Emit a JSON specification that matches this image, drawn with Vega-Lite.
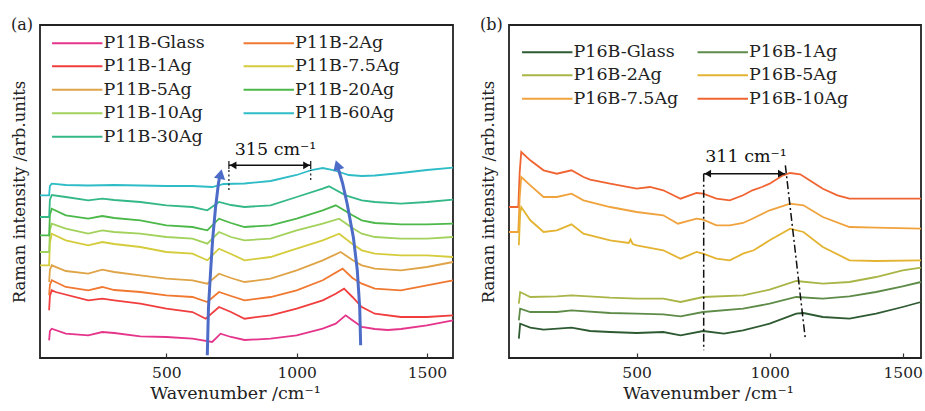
{
  "$schema": "https://vega.github.io/schema/vega-lite/v6.json",
  "background": "white",
  "padding": {"left": 10, "top": 16, "right": 0, "bottom": 0},
  "config": {
    "font": "DejaVu Serif",
    "view": {"stroke": "#222", "strokeWidth": 1.8},
    "concat": {"spacing": 21},
    "axis": {"labelFont": "DejaVu Serif", "titleFont": "DejaVu Serif", "labelFontSize": 15.5, "titleFontSize": 17.5, "titleFontWeight": "normal", "labelColor": "#222", "titleColor": "#222", "grid": false, "domain": false, "tickColor": "#333", "tickWidth": 1.2, "format": "d"},
    "axisX": {"tickSize": -5, "labelPadding": 12, "titlePadding": 4},
    "axisY": {"titlePadding": 13, "labels": false, "ticks": false, "titleFontSize": 16.5},
    "title": {"font": "DejaVu Serif", "fontSize": 16, "fontWeight": "normal", "color": "#222", "anchor": "start", "frame": "bounds", "offset": -8},
    "legend": {"orient": "none", "columns": 2, "title": null, "symbolType": "M-5.6,0H5.6", "symbolSize": 81, "symbolStrokeWidth": 2, "labelFont": "DejaVu Serif", "labelFontSize": 17.5, "labelColor": "#222", "labelOffset": 17.5, "rowPadding": 4.5, "padding": 0, "labelLimit": 300}
  },
  "resolve": {"scale": {"color": "independent", "x": "independent", "y": "independent"}, "legend": {"color": "independent"}},
  "datasets": {
    "a": [
      {"s":"P11B-Glass","x":50,"y":17.7},{"s":"P11B-Glass","x":53,"y":27},{"s":"P11B-Glass","x":60,"y":29.3},{"s":"P11B-Glass","x":114,"y":24.3},{"s":"P11B-Glass","x":200,"y":22.7},{"s":"P11B-Glass","x":254,"y":26},{"s":"P11B-Glass","x":300,"y":25},{"s":"P11B-Glass","x":400,"y":21.7},{"s":"P11B-Glass","x":500,"y":21},{"s":"P11B-Glass","x":600,"y":19.3},{"s":"P11B-Glass","x":676,"y":16},{"s":"P11B-Glass","x":708,"y":24.3},{"s":"P11B-Glass","x":748,"y":21},{"s":"P11B-Glass","x":800,"y":18},{"s":"P11B-Glass","x":900,"y":19.3},{"s":"P11B-Glass","x":1000,"y":22.7},{"s":"P11B-Glass","x":1100,"y":29.3},{"s":"P11B-Glass","x":1150,"y":34.3},{"s":"P11B-Glass","x":1188,"y":42.7},{"s":"P11B-Glass","x":1214,"y":37.7},{"s":"P11B-Glass","x":1250,"y":31},{"s":"P11B-Glass","x":1300,"y":29},{"s":"P11B-Glass","x":1350,"y":28},{"s":"P11B-Glass","x":1400,"y":29},{"s":"P11B-Glass","x":1500,"y":32.7},{"s":"P11B-Glass","x":1600,"y":37.7},
      {"s":"P11B-1Ag","x":50,"y":47.7},{"s":"P11B-1Ag","x":53,"y":62},{"s":"P11B-1Ag","x":60,"y":67.7},{"s":"P11B-1Ag","x":75,"y":66},{"s":"P11B-1Ag","x":200,"y":57.7},{"s":"P11B-1Ag","x":254,"y":59.3},{"s":"P11B-1Ag","x":300,"y":57.7},{"s":"P11B-1Ag","x":400,"y":54.3},{"s":"P11B-1Ag","x":500,"y":49.3},{"s":"P11B-1Ag","x":600,"y":46},{"s":"P11B-1Ag","x":651,"y":39.3},{"s":"P11B-1Ag","x":702,"y":51},{"s":"P11B-1Ag","x":748,"y":46},{"s":"P11B-1Ag","x":800,"y":39.3},{"s":"P11B-1Ag","x":900,"y":42.7},{"s":"P11B-1Ag","x":1000,"y":49.3},{"s":"P11B-1Ag","x":1100,"y":57.7},{"s":"P11B-1Ag","x":1150,"y":64.3},{"s":"P11B-1Ag","x":1182,"y":69.3},{"s":"P11B-1Ag","x":1214,"y":61},{"s":"P11B-1Ag","x":1250,"y":51},{"s":"P11B-1Ag","x":1300,"y":44.3},{"s":"P11B-1Ag","x":1400,"y":41},{"s":"P11B-1Ag","x":1500,"y":41},{"s":"P11B-1Ag","x":1600,"y":42.7},
      {"s":"P11B-2Ag","x":50,"y":62.7},{"s":"P11B-2Ag","x":53,"y":73},{"s":"P11B-2Ag","x":60,"y":77.7},{"s":"P11B-2Ag","x":114,"y":71},{"s":"P11B-2Ag","x":200,"y":67.7},{"s":"P11B-2Ag","x":254,"y":71},{"s":"P11B-2Ag","x":300,"y":68},{"s":"P11B-2Ag","x":400,"y":66},{"s":"P11B-2Ag","x":500,"y":62.7},{"s":"P11B-2Ag","x":600,"y":61},{"s":"P11B-2Ag","x":657,"y":56},{"s":"P11B-2Ag","x":702,"y":66},{"s":"P11B-2Ag","x":748,"y":62},{"s":"P11B-2Ag","x":800,"y":57.7},{"s":"P11B-2Ag","x":900,"y":61},{"s":"P11B-2Ag","x":1000,"y":67.7},{"s":"P11B-2Ag","x":1100,"y":77.7},{"s":"P11B-2Ag","x":1176,"y":89.3},{"s":"P11B-2Ag","x":1214,"y":80},{"s":"P11B-2Ag","x":1250,"y":74.3},{"s":"P11B-2Ag","x":1300,"y":69.3},{"s":"P11B-2Ag","x":1400,"y":67.7},{"s":"P11B-2Ag","x":1500,"y":72.7},{"s":"P11B-2Ag","x":1600,"y":77.7},
      {"s":"P11B-5Ag","x":50,"y":76},{"s":"P11B-5Ag","x":53,"y":88},{"s":"P11B-5Ag","x":60,"y":92.7},{"s":"P11B-5Ag","x":114,"y":87},{"s":"P11B-5Ag","x":200,"y":84.3},{"s":"P11B-5Ag","x":254,"y":88.3},{"s":"P11B-5Ag","x":300,"y":86},{"s":"P11B-5Ag","x":400,"y":82.7},{"s":"P11B-5Ag","x":500,"y":79.3},{"s":"P11B-5Ag","x":600,"y":77.7},{"s":"P11B-5Ag","x":657,"y":74.3},{"s":"P11B-5Ag","x":702,"y":84.3},{"s":"P11B-5Ag","x":748,"y":80},{"s":"P11B-5Ag","x":800,"y":76},{"s":"P11B-5Ag","x":900,"y":79.3},{"s":"P11B-5Ag","x":1000,"y":87.7},{"s":"P11B-5Ag","x":1100,"y":97.7},{"s":"P11B-5Ag","x":1169,"y":106},{"s":"P11B-5Ag","x":1214,"y":98},{"s":"P11B-5Ag","x":1250,"y":92.7},{"s":"P11B-5Ag","x":1300,"y":89.3},{"s":"P11B-5Ag","x":1400,"y":87.7},{"s":"P11B-5Ag","x":1500,"y":91},{"s":"P11B-5Ag","x":1600,"y":96},
      {"s":"P11B-7.5Ag","x":15,"y":92.7},{"s":"P11B-7.5Ag","x":50,"y":92.7},{"s":"P11B-7.5Ag","x":53,"y":115},{"s":"P11B-7.5Ag","x":60,"y":124.3},{"s":"P11B-7.5Ag","x":114,"y":117.7},{"s":"P11B-7.5Ag","x":200,"y":112.7},{"s":"P11B-7.5Ag","x":254,"y":116},{"s":"P11B-7.5Ag","x":300,"y":114},{"s":"P11B-7.5Ag","x":400,"y":111},{"s":"P11B-7.5Ag","x":500,"y":106},{"s":"P11B-7.5Ag","x":600,"y":104.3},{"s":"P11B-7.5Ag","x":657,"y":97.7},{"s":"P11B-7.5Ag","x":702,"y":109.3},{"s":"P11B-7.5Ag","x":748,"y":104},{"s":"P11B-7.5Ag","x":800,"y":97.7},{"s":"P11B-7.5Ag","x":900,"y":101},{"s":"P11B-7.5Ag","x":1000,"y":109.3},{"s":"P11B-7.5Ag","x":1100,"y":117.7},{"s":"P11B-7.5Ag","x":1163,"y":124.3},{"s":"P11B-7.5Ag","x":1214,"y":114},{"s":"P11B-7.5Ag","x":1250,"y":107.7},{"s":"P11B-7.5Ag","x":1300,"y":104.3},{"s":"P11B-7.5Ag","x":1400,"y":102.7},{"s":"P11B-7.5Ag","x":1500,"y":102.7},{"s":"P11B-7.5Ag","x":1600,"y":101},
      {"s":"P11B-10Ag","x":15,"y":106},{"s":"P11B-10Ag","x":50,"y":106},{"s":"P11B-10Ag","x":53,"y":128},{"s":"P11B-10Ag","x":60,"y":134.3},{"s":"P11B-10Ag","x":114,"y":129.3},{"s":"P11B-10Ag","x":200,"y":124.3},{"s":"P11B-10Ag","x":254,"y":127.7},{"s":"P11B-10Ag","x":300,"y":126},{"s":"P11B-10Ag","x":400,"y":124.3},{"s":"P11B-10Ag","x":500,"y":121},{"s":"P11B-10Ag","x":600,"y":119.3},{"s":"P11B-10Ag","x":657,"y":114.3},{"s":"P11B-10Ag","x":702,"y":126},{"s":"P11B-10Ag","x":748,"y":121},{"s":"P11B-10Ag","x":800,"y":117.7},{"s":"P11B-10Ag","x":900,"y":119.3},{"s":"P11B-10Ag","x":1000,"y":127.7},{"s":"P11B-10Ag","x":1100,"y":134.3},{"s":"P11B-10Ag","x":1163,"y":139.3},{"s":"P11B-10Ag","x":1214,"y":130},{"s":"P11B-10Ag","x":1250,"y":124.3},{"s":"P11B-10Ag","x":1300,"y":121},{"s":"P11B-10Ag","x":1400,"y":119.3},{"s":"P11B-10Ag","x":1500,"y":119.3},{"s":"P11B-10Ag","x":1600,"y":121},
      {"s":"P11B-20Ag","x":15,"y":122.7},{"s":"P11B-20Ag","x":50,"y":122.7},{"s":"P11B-20Ag","x":53,"y":143},{"s":"P11B-20Ag","x":60,"y":149.3},{"s":"P11B-20Ag","x":114,"y":142.7},{"s":"P11B-20Ag","x":200,"y":139.3},{"s":"P11B-20Ag","x":254,"y":142},{"s":"P11B-20Ag","x":300,"y":140},{"s":"P11B-20Ag","x":400,"y":137.7},{"s":"P11B-20Ag","x":500,"y":132.7},{"s":"P11B-20Ag","x":600,"y":131},{"s":"P11B-20Ag","x":657,"y":127.7},{"s":"P11B-20Ag","x":702,"y":139.3},{"s":"P11B-20Ag","x":748,"y":135},{"s":"P11B-20Ag","x":800,"y":131},{"s":"P11B-20Ag","x":900,"y":132.7},{"s":"P11B-20Ag","x":1000,"y":139.3},{"s":"P11B-20Ag","x":1100,"y":147.7},{"s":"P11B-20Ag","x":1150,"y":152.7},{"s":"P11B-20Ag","x":1214,"y":142.7},{"s":"P11B-20Ag","x":1250,"y":137.7},{"s":"P11B-20Ag","x":1300,"y":135},{"s":"P11B-20Ag","x":1400,"y":133.7},{"s":"P11B-20Ag","x":1500,"y":133.7},{"s":"P11B-20Ag","x":1600,"y":134.3},
      {"s":"P11B-30Ag","x":15,"y":141},{"s":"P11B-30Ag","x":50,"y":141},{"s":"P11B-30Ag","x":53,"y":158},{"s":"P11B-30Ag","x":60,"y":163},{"s":"P11B-30Ag","x":114,"y":161},{"s":"P11B-30Ag","x":200,"y":157.7},{"s":"P11B-30Ag","x":254,"y":159.3},{"s":"P11B-30Ag","x":300,"y":158},{"s":"P11B-30Ag","x":400,"y":156},{"s":"P11B-30Ag","x":500,"y":152.7},{"s":"P11B-30Ag","x":600,"y":151},{"s":"P11B-30Ag","x":657,"y":147.7},{"s":"P11B-30Ag","x":702,"y":156},{"s":"P11B-30Ag","x":748,"y":153},{"s":"P11B-30Ag","x":800,"y":151},{"s":"P11B-30Ag","x":900,"y":152.7},{"s":"P11B-30Ag","x":1000,"y":161},{"s":"P11B-30Ag","x":1100,"y":169.3},{"s":"P11B-30Ag","x":1124,"y":171.7},{"s":"P11B-30Ag","x":1188,"y":162.7},{"s":"P11B-30Ag","x":1250,"y":157.7},{"s":"P11B-30Ag","x":1300,"y":156},{"s":"P11B-30Ag","x":1400,"y":154.3},{"s":"P11B-30Ag","x":1500,"y":156},{"s":"P11B-30Ag","x":1600,"y":158.3},
      {"s":"P11B-60Ag","x":15,"y":162.7},{"s":"P11B-60Ag","x":50,"y":162.7},{"s":"P11B-60Ag","x":53,"y":172},{"s":"P11B-60Ag","x":60,"y":174.3},{"s":"P11B-60Ag","x":114,"y":173},{"s":"P11B-60Ag","x":200,"y":172.5},{"s":"P11B-60Ag","x":300,"y":173},{"s":"P11B-60Ag","x":400,"y":172.5},{"s":"P11B-60Ag","x":500,"y":172},{"s":"P11B-60Ag","x":600,"y":172},{"s":"P11B-60Ag","x":676,"y":171},{"s":"P11B-60Ag","x":720,"y":174},{"s":"P11B-60Ag","x":800,"y":174.5},{"s":"P11B-60Ag","x":900,"y":177},{"s":"P11B-60Ag","x":1000,"y":183},{"s":"P11B-60Ag","x":1057,"y":188},{"s":"P11B-60Ag","x":1100,"y":190},{"s":"P11B-60Ag","x":1140,"y":188},{"s":"P11B-60Ag","x":1200,"y":183},{"s":"P11B-60Ag","x":1250,"y":182},{"s":"P11B-60Ag","x":1300,"y":182.5},{"s":"P11B-60Ag","x":1400,"y":185},{"s":"P11B-60Ag","x":1500,"y":188},{"s":"P11B-60Ag","x":1600,"y":190.3}
    ],
    "b": [
      {"s":"P16B-10Ag","x":20,"y":151},{"s":"P16B-10Ag","x":55,"y":151},{"s":"P16B-10Ag","x":60,"y":185},{"s":"P16B-10Ag","x":66,"y":206},{"s":"P16B-10Ag","x":100,"y":197.7},{"s":"P16B-10Ag","x":150,"y":187.7},{"s":"P16B-10Ag","x":200,"y":184.3},{"s":"P16B-10Ag","x":255,"y":187.7},{"s":"P16B-10Ag","x":300,"y":181},{"s":"P16B-10Ag","x":325,"y":178.3},{"s":"P16B-10Ag","x":400,"y":174.3},{"s":"P16B-10Ag","x":500,"y":169.3},{"s":"P16B-10Ag","x":550,"y":171},{"s":"P16B-10Ag","x":600,"y":167.7},{"s":"P16B-10Ag","x":665,"y":159.3},{"s":"P16B-10Ag","x":725,"y":165},{"s":"P16B-10Ag","x":750,"y":164.3},{"s":"P16B-10Ag","x":800,"y":159.3},{"s":"P16B-10Ag","x":850,"y":157.7},{"s":"P16B-10Ag","x":900,"y":162.7},{"s":"P16B-10Ag","x":935,"y":167.7},{"s":"P16B-10Ag","x":971,"y":171},{"s":"P16B-10Ag","x":1000,"y":174.3},{"s":"P16B-10Ag","x":1050,"y":182.7},{"s":"P16B-10Ag","x":1077,"y":185},{"s":"P16B-10Ag","x":1115,"y":183.7},{"s":"P16B-10Ag","x":1150,"y":177.7},{"s":"P16B-10Ag","x":1200,"y":169.3},{"s":"P16B-10Ag","x":1255,"y":162.7},{"s":"P16B-10Ag","x":1300,"y":159.3},{"s":"P16B-10Ag","x":1400,"y":159.3},{"s":"P16B-10Ag","x":1569,"y":159.3},
      {"s":"P16B-7.5Ag","x":20,"y":126},{"s":"P16B-7.5Ag","x":55,"y":126},{"s":"P16B-7.5Ag","x":60,"y":160},{"s":"P16B-7.5Ag","x":66,"y":181},{"s":"P16B-7.5Ag","x":100,"y":172.7},{"s":"P16B-7.5Ag","x":150,"y":161},{"s":"P16B-7.5Ag","x":200,"y":161},{"s":"P16B-7.5Ag","x":255,"y":164.3},{"s":"P16B-7.5Ag","x":300,"y":157.7},{"s":"P16B-7.5Ag","x":400,"y":151},{"s":"P16B-7.5Ag","x":500,"y":146},{"s":"P16B-7.5Ag","x":600,"y":142.7},{"s":"P16B-7.5Ag","x":655,"y":134.3},{"s":"P16B-7.5Ag","x":725,"y":139.3},{"s":"P16B-7.5Ag","x":750,"y":138.3},{"s":"P16B-7.5Ag","x":800,"y":132.7},{"s":"P16B-7.5Ag","x":850,"y":132.7},{"s":"P16B-7.5Ag","x":900,"y":135},{"s":"P16B-7.5Ag","x":935,"y":139.3},{"s":"P16B-7.5Ag","x":1000,"y":147.7},{"s":"P16B-7.5Ag","x":1077,"y":154.3},{"s":"P16B-7.5Ag","x":1127,"y":152.7},{"s":"P16B-7.5Ag","x":1200,"y":141},{"s":"P16B-7.5Ag","x":1300,"y":131},{"s":"P16B-7.5Ag","x":1400,"y":130.3},{"s":"P16B-7.5Ag","x":1569,"y":129.3},
      {"s":"P16B-5Ag","x":57,"y":112.7},{"s":"P16B-5Ag","x":62,"y":145},{"s":"P16B-5Ag","x":66,"y":151},{"s":"P16B-5Ag","x":100,"y":137.7},{"s":"P16B-5Ag","x":150,"y":126},{"s":"P16B-5Ag","x":200,"y":127.7},{"s":"P16B-5Ag","x":255,"y":133.7},{"s":"P16B-5Ag","x":300,"y":124.3},{"s":"P16B-5Ag","x":400,"y":117.7},{"s":"P16B-5Ag","x":470,"y":115},{"s":"P16B-5Ag","x":477,"y":118.5},{"s":"P16B-5Ag","x":485,"y":114},{"s":"P16B-5Ag","x":500,"y":112.7},{"s":"P16B-5Ag","x":600,"y":107.7},{"s":"P16B-5Ag","x":665,"y":99.3},{"s":"P16B-5Ag","x":725,"y":106},{"s":"P16B-5Ag","x":750,"y":104.3},{"s":"P16B-5Ag","x":800,"y":99.3},{"s":"P16B-5Ag","x":850,"y":97.7},{"s":"P16B-5Ag","x":900,"y":104.3},{"s":"P16B-5Ag","x":940,"y":107.7},{"s":"P16B-5Ag","x":1000,"y":117.7},{"s":"P16B-5Ag","x":1077,"y":129.3},{"s":"P16B-5Ag","x":1127,"y":126},{"s":"P16B-5Ag","x":1200,"y":111},{"s":"P16B-5Ag","x":1300,"y":97.7},{"s":"P16B-5Ag","x":1400,"y":97},{"s":"P16B-5Ag","x":1569,"y":97.7},
      {"s":"P16B-2Ag","x":57,"y":54.3},{"s":"P16B-2Ag","x":62,"y":66},{"s":"P16B-2Ag","x":100,"y":61},{"s":"P16B-2Ag","x":200,"y":61.7},{"s":"P16B-2Ag","x":255,"y":62.7},{"s":"P16B-2Ag","x":400,"y":60.3},{"s":"P16B-2Ag","x":500,"y":59.3},{"s":"P16B-2Ag","x":600,"y":59.3},{"s":"P16B-2Ag","x":665,"y":56},{"s":"P16B-2Ag","x":750,"y":61},{"s":"P16B-2Ag","x":900,"y":62.7},{"s":"P16B-2Ag","x":1000,"y":68.3},{"s":"P16B-2Ag","x":1100,"y":77},{"s":"P16B-2Ag","x":1200,"y":74.3},{"s":"P16B-2Ag","x":1300,"y":76},{"s":"P16B-2Ag","x":1400,"y":81},{"s":"P16B-2Ag","x":1500,"y":87.7},{"s":"P16B-2Ag","x":1569,"y":90.3},
      {"s":"P16B-1Ag","x":57,"y":37.7},{"s":"P16B-1Ag","x":62,"y":49.3},{"s":"P16B-1Ag","x":100,"y":46},{"s":"P16B-1Ag","x":200,"y":46},{"s":"P16B-1Ag","x":255,"y":47.7},{"s":"P16B-1Ag","x":400,"y":45},{"s":"P16B-1Ag","x":500,"y":44.3},{"s":"P16B-1Ag","x":600,"y":43.7},{"s":"P16B-1Ag","x":665,"y":41.7},{"s":"P16B-1Ag","x":750,"y":46},{"s":"P16B-1Ag","x":900,"y":49.3},{"s":"P16B-1Ag","x":1000,"y":54.3},{"s":"P16B-1Ag","x":1100,"y":61},{"s":"P16B-1Ag","x":1200,"y":59.3},{"s":"P16B-1Ag","x":1300,"y":61.7},{"s":"P16B-1Ag","x":1400,"y":66},{"s":"P16B-1Ag","x":1500,"y":71.7},{"s":"P16B-1Ag","x":1569,"y":76},
      {"s":"P16B-Glass","x":57,"y":19.3},{"s":"P16B-Glass","x":62,"y":34.3},{"s":"P16B-Glass","x":100,"y":30.3},{"s":"P16B-Glass","x":150,"y":28.3},{"s":"P16B-Glass","x":255,"y":30.3},{"s":"P16B-Glass","x":325,"y":27},{"s":"P16B-Glass","x":400,"y":26},{"s":"P16B-Glass","x":500,"y":25},{"s":"P16B-Glass","x":600,"y":26},{"s":"P16B-Glass","x":665,"y":22.7},{"s":"P16B-Glass","x":750,"y":27},{"s":"P16B-Glass","x":828,"y":24.3},{"s":"P16B-Glass","x":900,"y":27.7},{"s":"P16B-Glass","x":1000,"y":34.3},{"s":"P16B-Glass","x":1100,"y":44.3},{"s":"P16B-Glass","x":1127,"y":45},{"s":"P16B-Glass","x":1200,"y":41},{"s":"P16B-Glass","x":1300,"y":39.3},{"s":"P16B-Glass","x":1400,"y":44.3},{"s":"P16B-Glass","x":1500,"y":51},{"s":"P16B-Glass","x":1569,"y":56}
    ],
    "arrowsA": [
      {"id":"L","x":657,"y":2.7},{"id":"L","x":661.5,"y":50},{"id":"L","x":670,"y":88},{"id":"L","x":678,"y":120},{"id":"L","x":688.5,"y":150},{"id":"L","x":700,"y":175},{"id":"L","x":706,"y":183},
      {"id":"R","x":1245.6,"y":12.7},{"id":"R","x":1242,"y":50},{"id":"R","x":1232.6,"y":88},{"id":"R","x":1218,"y":120},{"id":"R","x":1194,"y":154},{"id":"R","x":1176,"y":175},{"id":"R","x":1160,"y":189}
    ]
  },
  "hconcat": [
    {
      "width": 413,
      "height": 333,
      "title": {"text": "(a)"},
      "layer": [
        {
          "data": {"name": "a"},
          "mark": {"type": "line", "strokeWidth": 1.8},
          "encoding": {
            "x": {"field": "x", "type": "quantitative", "scale": {"domain": [15, 1600], "nice": false, "zero": false}, "axis": {"values": [500, 1000, 1500], "title": "Wavenumber /cm⁻¹", "titleX": 195}},
            "y": {"field": "y", "type": "quantitative", "scale": {"domain": [0, 333], "nice": false}, "axis": {"title": "Raman intensity /arb.units"}},
            "color": {"field": "s", "type": "nominal",
              "scale": {"domain": ["P11B-Glass", "P11B-1Ag", "P11B-5Ag", "P11B-10Ag", "P11B-30Ag", "P11B-2Ag", "P11B-7.5Ag", "P11B-20Ag", "P11B-60Ag"],
                        "range": ["#e5358b", "#f03e3e", "#e0a448", "#a2d25c", "#34b887", "#f07830", "#d4cc3c", "#4cb84a", "#2ebcc6"]},
              "legend": {"legendX": 28.5, "legendY": 9, "columnPadding": 33.5}}
          }
        },
        {
          "data": {"name": "arrowsA"},
          "mark": {"type": "line", "color": "#4c6cc8", "strokeWidth": 3},
          "encoding": {
            "x": {"field": "x", "type": "quantitative"},
            "y": {"field": "y", "type": "quantitative"},
            "detail": {"field": "id"},
            "order": {"field": "y"}
          }
        },
        {
          "data": {"values": [{"x": 708, "y": 184}]},
          "mark": {"type": "point", "shape": "triangle-up", "filled": true, "color": "#4c6cc8", "size": 130, "angle": 12, "opacity": 1},
          "encoding": {"x": {"field": "x", "type": "quantitative"}, "y": {"field": "y", "type": "quantitative"}}
        },
        {
          "data": {"values": [{"x": 1156, "y": 193}]},
          "mark": {"type": "point", "shape": "triangle-up", "filled": true, "color": "#4c6cc8", "size": 130, "angle": -18, "opacity": 1},
          "encoding": {"x": {"field": "x", "type": "quantitative"}, "y": {"field": "y", "type": "quantitative"}}
        },
        {
          "data": {"values": [{"x": 740, "x2": 1054, "y": 192.7}]},
          "mark": {"type": "rule", "color": "#111", "strokeWidth": 1.5},
          "encoding": {"x": {"field": "x", "type": "quantitative"}, "x2": {"field": "x2"}, "y": {"field": "y", "type": "quantitative"}}
        },
        {
          "data": {"values": [{"x": 740, "y": 189, "y2": 197}, {"x": 1054, "y": 189, "y2": 197}]},
          "mark": {"type": "rule", "color": "#111", "strokeWidth": 1.2},
          "encoding": {"x": {"field": "x", "type": "quantitative"}, "y": {"field": "y", "type": "quantitative"}, "y2": {"field": "y2"}}
        },
        {
          "data": {"values": [{"x": 740, "y": 168, "y2": 188}, {"x": 1054, "y": 178, "y2": 188}]},
          "mark": {"type": "rule", "color": "#111", "strokeWidth": 1.2, "strokeDash": [2, 2.5]},
          "encoding": {"x": {"field": "x", "type": "quantitative"}, "y": {"field": "y", "type": "quantitative"}, "y2": {"field": "y2"}}
        },
        {
          "data": {"values": [{"x": 756, "y": 192.7}]},
          "mark": {"type": "point", "shape": "triangle-left", "filled": true, "color": "#111", "size": 60, "opacity": 1},
          "encoding": {"x": {"field": "x", "type": "quantitative"}, "y": {"field": "y", "type": "quantitative"}}
        },
        {
          "data": {"values": [{"x": 1038, "y": 192.7}]},
          "mark": {"type": "point", "shape": "triangle-right", "filled": true, "color": "#111", "size": 60, "opacity": 1},
          "encoding": {"x": {"field": "x", "type": "quantitative"}, "y": {"field": "y", "type": "quantitative"}}
        },
        {
          "data": {"values": [{"x": 919, "y": 207.7, "t": "315 cm⁻¹"}]},
          "mark": {"type": "text", "font": "DejaVu Serif", "fontSize": 17.5, "color": "#111", "baseline": "middle", "align": "center"},
          "encoding": {"x": {"field": "x", "type": "quantitative"}, "y": {"field": "y", "type": "quantitative"}, "text": {"field": "t"}}
        }
      ]
    },
    {
      "width": 412,
      "height": 333,
      "title": {"text": "(b)"},
      "layer": [
        {
          "data": {"name": "b"},
          "mark": {"type": "line", "strokeWidth": 1.8},
          "encoding": {
            "x": {"field": "x", "type": "quantitative", "scale": {"domain": [20, 1569], "nice": false, "zero": false}, "axis": {"values": [500, 1000, 1500], "title": "Wavenumber /cm⁻¹", "titleX": 199}},
            "y": {"field": "y", "type": "quantitative", "scale": {"domain": [0, 333], "nice": false}, "axis": {"title": "Raman intensity /arb.units"}},
            "color": {"field": "s", "type": "nominal",
              "scale": {"domain": ["P16B-Glass", "P16B-2Ag", "P16B-7.5Ag", "P16B-1Ag", "P16B-5Ag", "P16B-10Ag"],
                        "range": ["#2e5a32", "#a9b546", "#f0a23c", "#5e8c48", "#e3b331", "#f06432"]},
              "legend": {"legendX": 29.5, "legendY": 18, "columnPadding": 14.5}}
          }
        },
        {
          "data": {"values": [{"x": 752, "x2": 1059, "y": 184.3}]},
          "mark": {"type": "rule", "color": "#111", "strokeWidth": 1.5},
          "encoding": {"x": {"field": "x", "type": "quantitative"}, "x2": {"field": "x2"}, "y": {"field": "y", "type": "quantitative"}}
        },
        {
          "data": {"values": [{"x": 752, "y": 184.3, "x2": 752, "y2": 7.7}, {"x": 1059, "y": 192.7, "x2": 1134, "y2": 19.3}]},
          "mark": {"type": "rule", "color": "#111", "strokeWidth": 1.5, "strokeDash": [8, 3, 2, 3]},
          "encoding": {"x": {"field": "x", "type": "quantitative"}, "y": {"field": "y", "type": "quantitative"}, "x2": {"field": "x2"}, "y2": {"field": "y2"}}
        },
        {
          "data": {"values": [{"x": 767, "y": 184.3}]},
          "mark": {"type": "point", "shape": "triangle-left", "filled": true, "color": "#111", "size": 60, "opacity": 1},
          "encoding": {"x": {"field": "x", "type": "quantitative"}, "y": {"field": "y", "type": "quantitative"}}
        },
        {
          "data": {"values": [{"x": 1044, "y": 184.3}]},
          "mark": {"type": "point", "shape": "triangle-right", "filled": true, "color": "#111", "size": 60, "opacity": 1},
          "encoding": {"x": {"field": "x", "type": "quantitative"}, "y": {"field": "y", "type": "quantitative"}}
        },
        {
          "data": {"values": [{"x": 911, "y": 201, "t": "311 cm⁻¹"}]},
          "mark": {"type": "text", "font": "DejaVu Serif", "fontSize": 17.5, "color": "#111", "baseline": "middle", "align": "center"},
          "encoding": {"x": {"field": "x", "type": "quantitative"}, "y": {"field": "y", "type": "quantitative"}, "text": {"field": "t"}}
        }
      ]
    }
  ]
}
